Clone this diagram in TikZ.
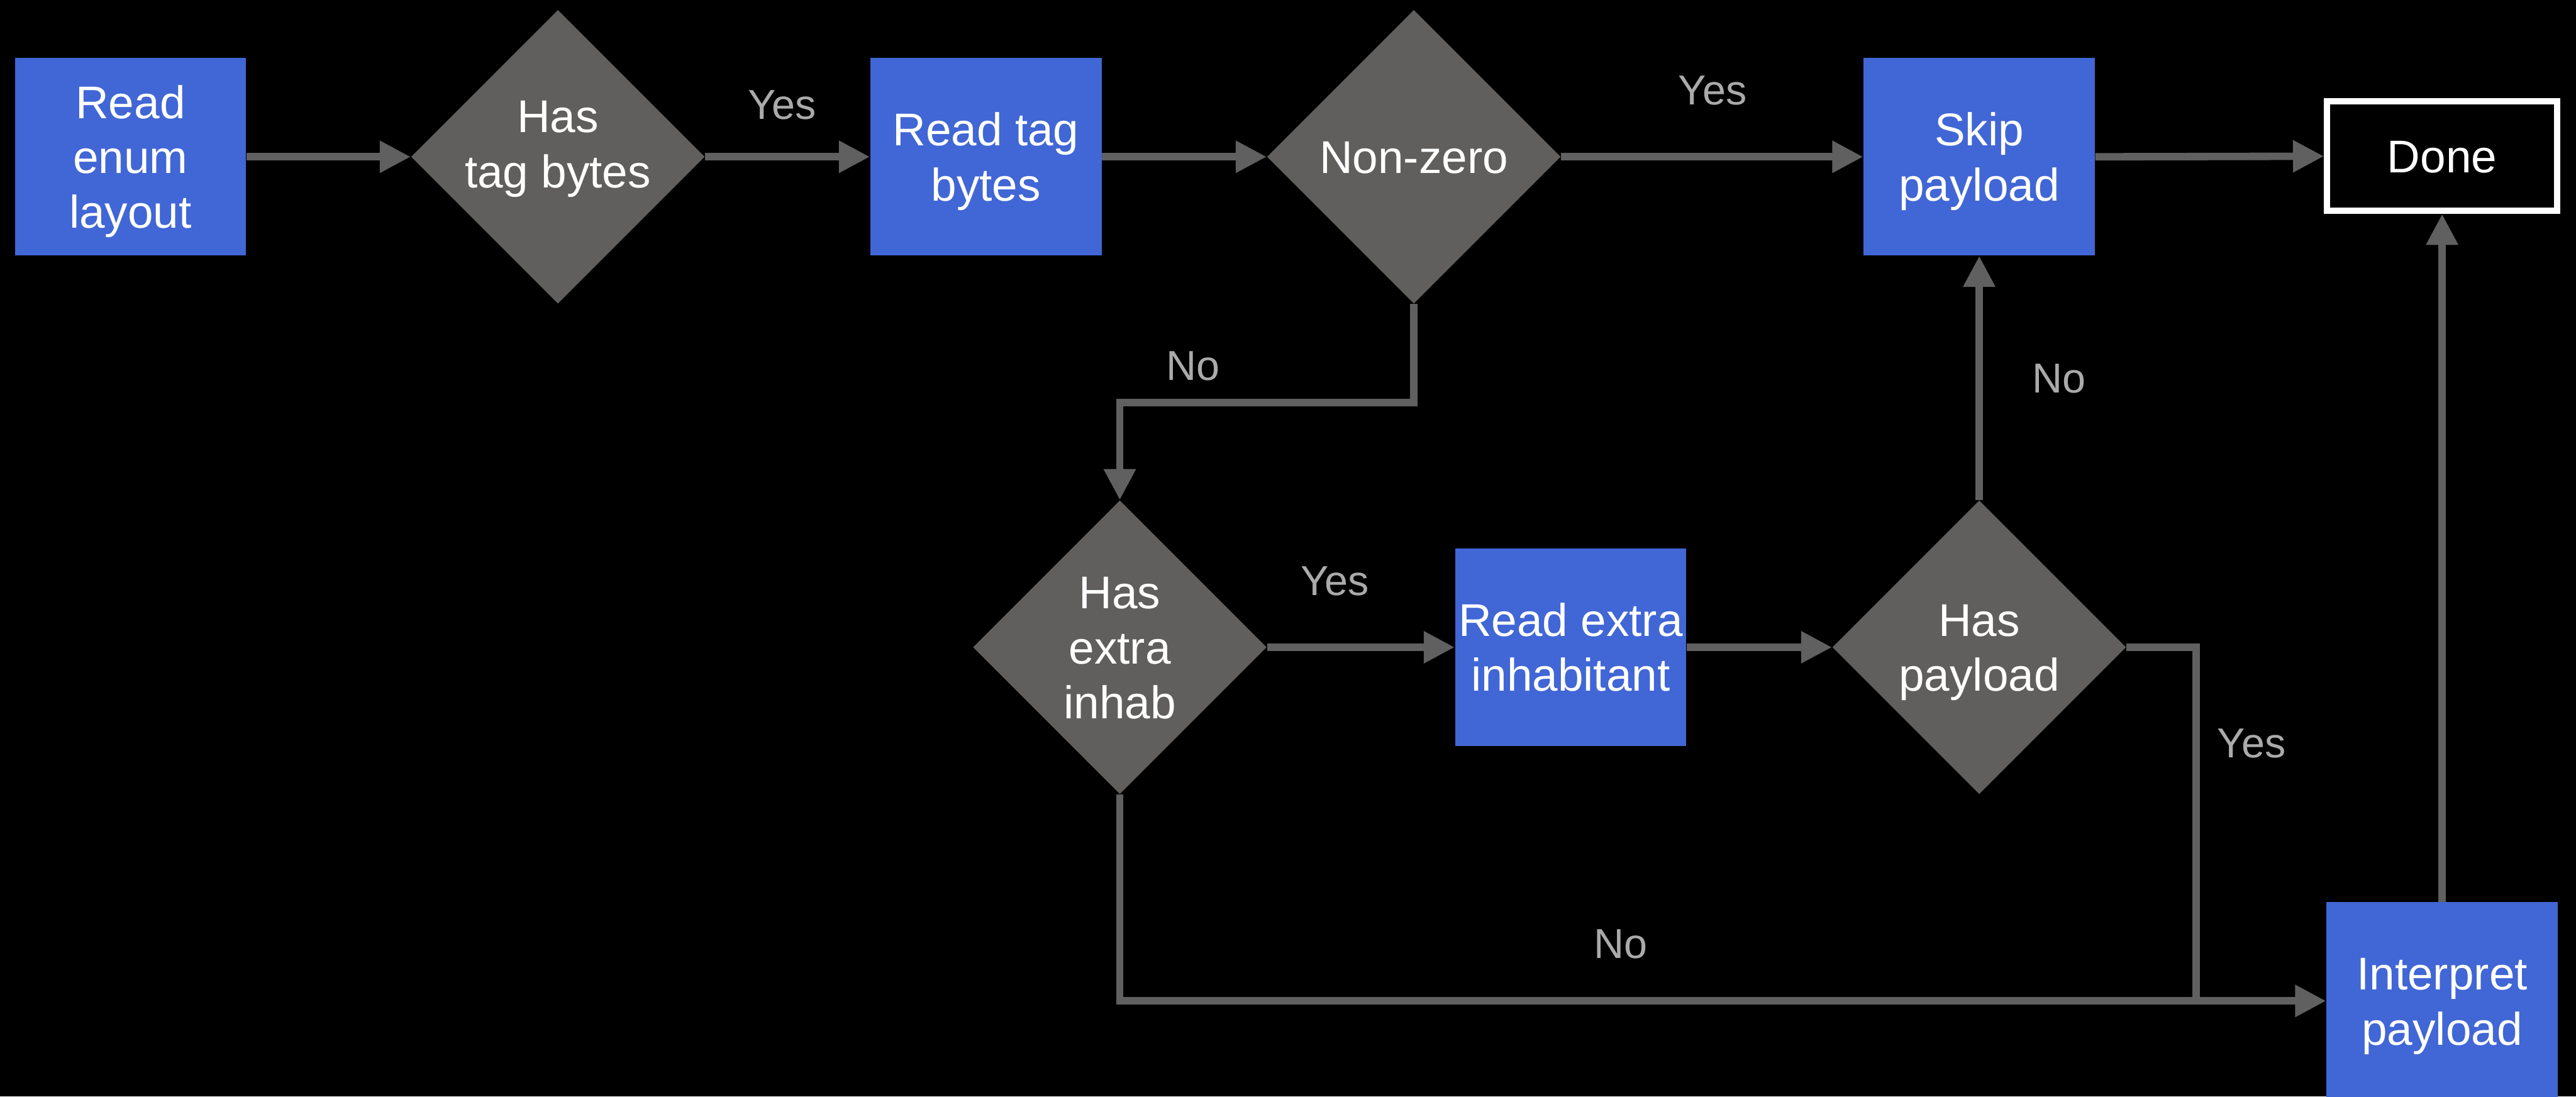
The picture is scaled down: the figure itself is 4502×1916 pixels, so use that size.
\documentclass[tikz,border=0pt]{standalone}
\usepackage{fontspec}
\setmainfont{Liberation Sans}
\usetikzlibrary{arrows.meta,shapes.geometric}
\definecolor{stepblue}{RGB}{65,102,213}
\definecolor{decgray}{RGB}{96,95,93}
\definecolor{linegray}{RGB}{96,96,96}
\definecolor{labelgray}{RGB}{170,170,170}
\begin{document}
\begin{tikzpicture}[x=0.01cm,y=-0.01cm,
  nodefont/.style={font=\fontsize{22.8}{27.3}\selectfont},
  % the text box spans cap height of the first line down to the last baseline
  oneline/.style={text height=16.3pt, text depth=0pt},
  twolines/.style={text height=43.6pt, text depth=0pt},
  threelines/.style={text height=70.9pt, text depth=0pt},
  stepbox/.style={rectangle, fill=stepblue, text=white, minimum width=4.04cm,
    minimum height=3.45cm, inner sep=0pt, align=center, nodefont},
  decision/.style={diamond, aspect=1, fill=decgray, text=white, minimum width=5.13cm,
    minimum height=5.13cm, inner sep=-4pt, align=center, nodefont},
  endbox/.style={rectangle, draw=white, line width=0.11cm, minimum width=4.02cm,
    minimum height=1.91cm, text=white, inner sep=0pt, nodefont},
  link/.style={draw=linegray, line width=0.13cm},
  flow/.style={link, -{Triangle[length=0.54cm,width=0.53cm]}},
  branch/.style={text=labelgray, font=\fontsize{20.8}{25}\selectfont}
]
% canvas
\fill[black] (0,0) rectangle (4502,1916);
\useasboundingbox (0,0) rectangle (4502,1916);

% top row
\node[stepbox, threelines] (readlayout) at (228,274)  {Read\\enum\\layout};
\node[decision, text height=43.6pt, text depth=13.1pt] (hastag) at (975,274) {Has\\tag bytes};
\node[stepbox, twolines]   (readtag)    at (1723,274) {Read tag\\bytes};
\node[decision, oneline]   (nonzero)    at (2471,274) {Non-zero};
\node[stepbox, twolines]   (skip)       at (3459,274) {Skip\\payload};
\node[endbox, oneline]     (done)       at (4268,273) {Done};

% middle row
\node[decision, threelines] (hasextra)   at (1957,1131) {Has\\extra\\inhab};
\node[stepbox, twolines]    (readextra)  at (2745,1131) {Read extra\\inhabitant};
\node[decision, twolines]   (haspayload) at (3459,1131) {Has\\payload};

% bottom right
\node[stepbox, twolines]    (interpret)  at (4268,1749) {Interpret\\payload};

% routing points
\coordinate (nzbend)   at (1957,703);
\coordinate (yesdrop)  at (3838,1749);
\coordinate (nobottom) at (1957,1749);

% connectors
\draw[flow] (readlayout.east) -- (hastag.west);
\draw[flow] (hastag.east) -- (readtag.west);
\draw[flow] (readtag.east) -- (nonzero.west);
\draw[flow] (nonzero.east) -- (skip.west);
\draw[flow] (skip.east) -- (done.west);
\draw[flow] (nonzero.south) |- (nzbend) -- (hasextra.north);
\draw[flow] (hasextra.east) -- (readextra.west);
\draw[flow] (readextra.east) -- (haspayload.west);
\draw[flow] (haspayload.north) -- (skip.south);
\draw[link] (haspayload.east) -| (yesdrop);
\draw[flow] (hasextra.south) -- (nobottom) -- (interpret.west);
\draw[flow] (interpret.north) -- (done.south);

% branch labels
\node[branch] (yes1) at (1367,183)  {Yes};
\node[branch] (yes2) at (2993,158)  {Yes};
\node[branch] (no1)  at (2085,640)  {No};
\node[branch] (yes3) at (2333,1015) {Yes};
\node[branch] (no2)  at (3598,662)  {No};
\node[branch] (yes4) at (3935,1299) {Yes};
\node[branch] (no3)  at (2832,1650) {No};
\end{tikzpicture}
\end{document}
